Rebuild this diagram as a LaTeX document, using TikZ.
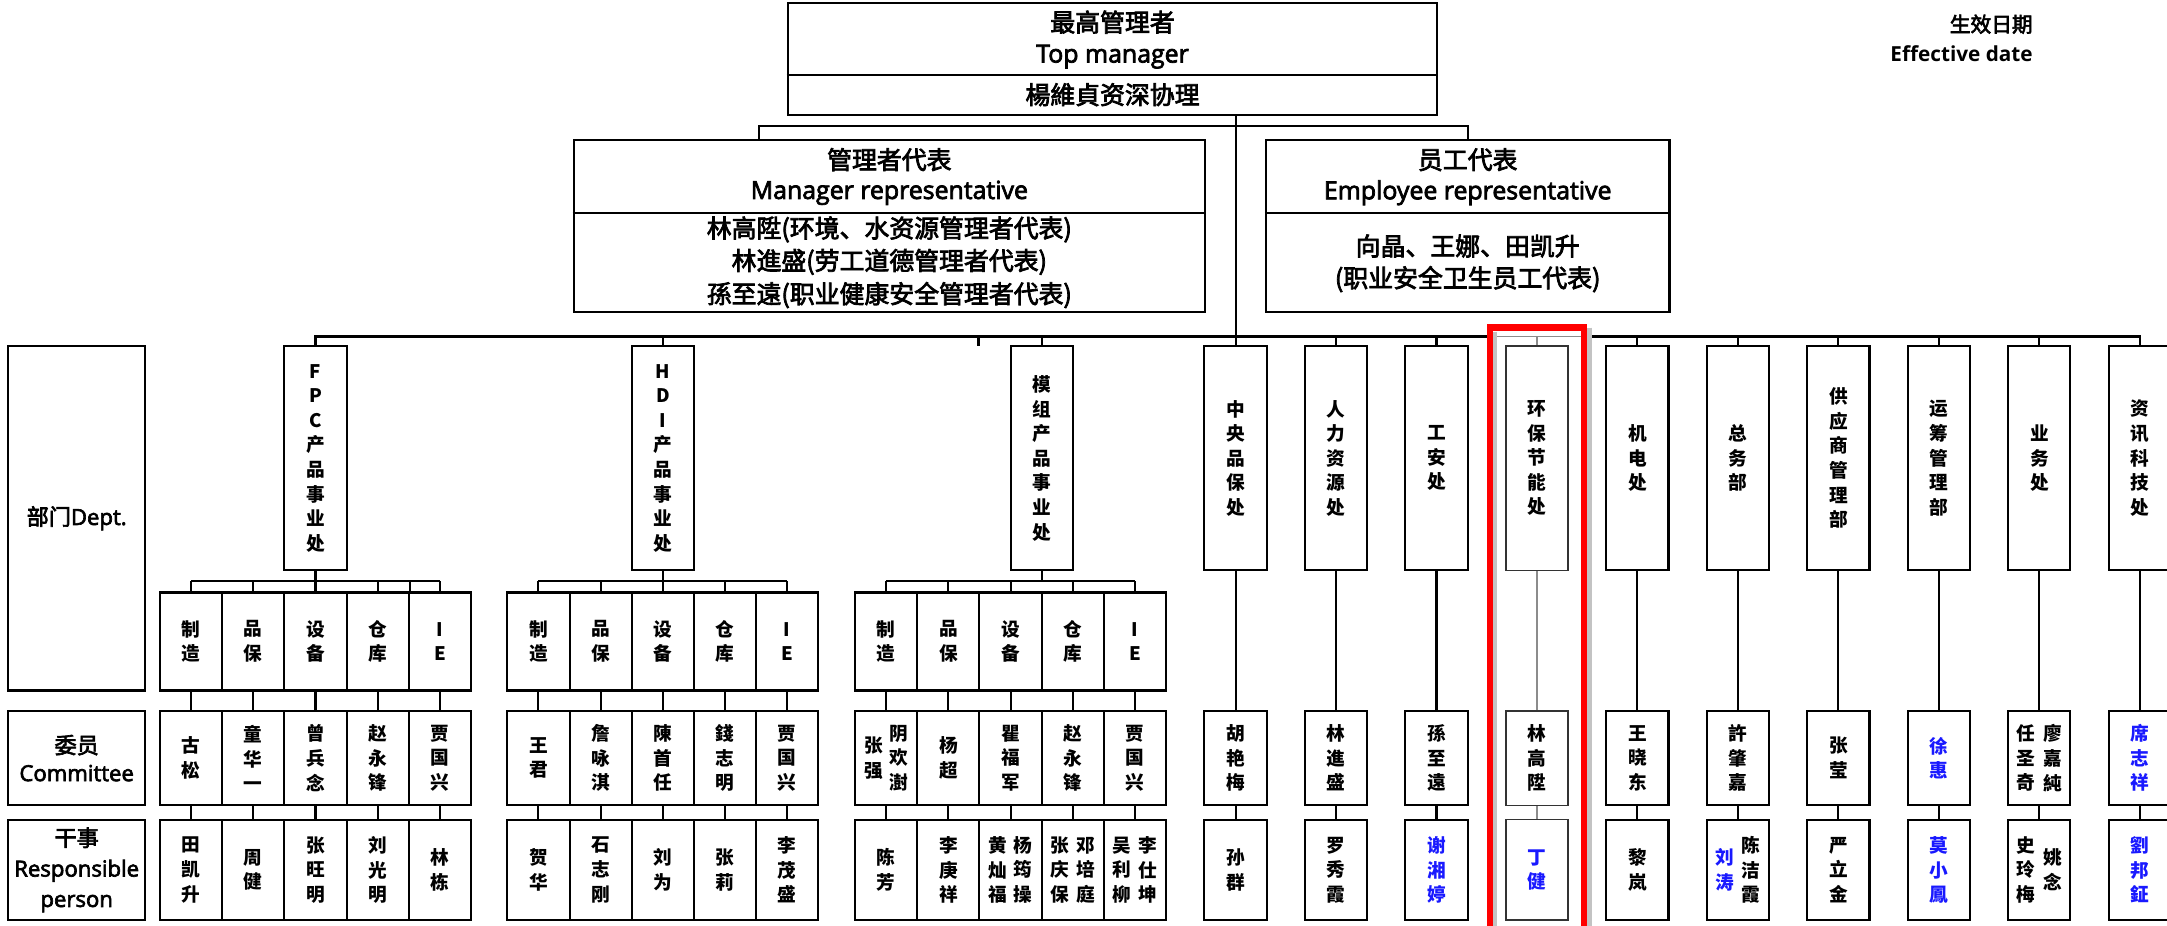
\documentclass[tikz,border=0pt]{standalone}
\usepackage{fontspec}
\setmainfont{Open Sans}
\newfontfamily\cjk{Noto Sans CJK SC}
\newfontfamily\cjkh[FakeBold=3]{Noto Sans CJK SC}
\newfontfamily\lath[FakeBold=3]{Open Sans}
\definecolor{nameblue}{RGB}{25,25,255}
\definecolor{selred}{RGB}{255,0,0}
\definecolor{selgray}{RGB}{195,195,195}
\tikzset{
  frame/.style={draw=black, line width=1.5pt, inner sep=0pt},
  cell/.style={frame, align=center, font=\cjk\bfseries\fontsize{13.5}{17.8}\selectfont},
  celltext/.style={inner sep=0pt, align=center, font=\cjk\bfseries\fontsize{13.5}{17.8}\selectfont},
  deptbox/.style={cell, minimum width=45pt, minimum height=162.3pt},
  subbox/.style={cell, minimum width=45pt, minimum height=70.9pt},
  combox/.style={cell, minimum width=45pt, minimum height=68.3pt},
  resbox/.style={cell, minimum width=45pt, minimum height=72.7pt},
  lite/.style={draw=black!80, line width=1pt},
  conn/.style={draw=black, line width=1.5pt},
  liteconn/.style={draw=black!45, line width=1pt},
  head/.style={inner sep=0pt, font=\lath\fontsize{18}{22}\selectfont},
  headcjk/.style={inner sep=0pt, font=\cjkh\fontsize{18}{22}\selectfont},
  labtext/.style={inner sep=0pt, align=center, font=\lath\fontsize{16}{20}\selectfont},
  bluename/.style={text=nameblue}
}
\begin{document}
\begin{tikzpicture}[x=1pt,y=-1pt]
\useasboundingbox (0,0) rectangle (1568,670);

% ---------- header boxes ----------
\node[frame, minimum width=470pt, minimum height=81pt] (top) at (805,43) {};
\coordinate (topdiv) at (805,54);
\draw[conn] (top.west |- topdiv) -- (top.east |- topdiv);
\node[headcjk] (topzh) at (805,16) {最高管理者};
\node[head] (topen) at (805,41) {Top manager};
\node[headcjk] (topname) at (805,68.5) {楊維貞资深协理};

\node[frame, minimum width=457pt, minimum height=124.5pt] (mgr) at (643.5,163.25) {};
\coordinate (mgrdiv) at (643.5,154);
\draw[conn] (mgr.west |- mgrdiv) -- (mgr.east |- mgrdiv);
\node[headcjk] (mgrzh) at (643.5,115.5) {管理者代表};
\node[head] (mgren) at (643.5,139.5) {Manager representative};
\node[headcjk] (mgr1) at (643.5,166) {林高陞(环境、水资源管理者代表)};
\node[headcjk] (mgr2) at (643.5,189.5) {林進盛(劳工道德管理者代表)};
\node[headcjk] (mgr3) at (643.5,213.5) {孫至遠(职业健康安全管理者代表)};

\node[frame, minimum width=292pt, minimum height=124.5pt] (emp) at (1062,163.25) {};
\coordinate (empdiv) at (1062,154);
\draw[conn] (emp.west |- empdiv) -- (emp.east |- empdiv);
\node[headcjk] (empzh) at (1062,115.5) {员工代表};
\node[head] (empen) at (1062,139.5) {Employee representative};
\node[headcjk] (emp1) at (1062,178) {向晶、王娜、田凯升};
\node[headcjk] (emp2) at (1062,202) {(职业安全卫生员工代表)};

\node[inner sep=0pt, anchor=east, font=\cjkh\fontsize{15}{18}\selectfont] (effzh) at (1471,17.5) {生效日期};
\node[inner sep=0pt, anchor=east, font=\bfseries\fontsize{15}{18}\selectfont] (effen) at (1471,38.5) {Effective date};

% ---------- left labels ----------
\node[frame, labtext, minimum width=99pt, minimum height=249.2pt] (labd) at (55.5,375) {{\cjkh 部门}Dept.};
\node[frame, labtext, minimum width=99pt, minimum height=68.3pt] (labc) at (55.5,548.55) {{\cjkh 委员}\\Committee};
\node[frame, labtext, font=\lath\fontsize{16}{22}\selectfont, minimum width=99pt, minimum height=72.7pt] (labr) at (55.5,629.45) {{\cjkh 干事}\\Responsible\\person};

% ---------- product groups ----------
\node[deptbox] (fpc) at (228.3,331.55) {F\\P\\C\\产\\品\\事\\业\\处};
\node[deptbox] (hdi) at (479.6,331.55) {H\\D\\I\\产\\品\\事\\业\\处};
\node[deptbox] (mz) at (753.7,331.55) {模\\组\\产\\品\\事\\业\\处};

\foreach \g/\xs in {f/138.3,h/389.6,m/641.2}{
  \node[subbox] (\g-s1) at (\xs,464.15) {制\\造};
  \node[subbox] (\g-s2) at (\xs+45,464.15) {品\\保};
  \node[subbox] (\g-s3) at (\xs+90,464.15) {设\\备};
  \node[subbox] (\g-s4) at (\xs+135,464.15) {仓\\库};
  \node[subbox] (\g-s5) at (\xs+180,464.15) {I\\E};
}

% FPC names
\node[combox] (f-c1) at (138.3,548.55) {古\\松};
\node[combox] (f-c2) at (183.3,548.55) {童\\华\\一};
\node[combox] (f-c3) at (228.3,548.55) {曾\\兵\\念};
\node[combox] (f-c4) at (273.3,548.55) {赵\\永\\锋};
\node[combox] (f-c5) at (318.3,548.55) {贾\\国\\兴};
\node[resbox] (f-r1) at (138.3,629.45) {田\\凯\\升};
\node[resbox] (f-r2) at (183.3,629.45) {周\\健};
\node[resbox] (f-r3) at (228.3,629.45) {张\\旺\\明};
\node[resbox] (f-r4) at (273.3,629.45) {刘\\光\\明};
\node[resbox] (f-r5) at (318.3,629.45) {林\\栋};

% HDI names
\node[combox] (h-c1) at (389.6,548.55) {王\\君};
\node[combox] (h-c2) at (434.6,548.55) {詹\\咏\\淇};
\node[combox] (h-c3) at (479.6,548.55) {陳\\首\\任};
\node[combox] (h-c4) at (524.6,548.55) {錢\\志\\明};
\node[combox] (h-c5) at (569.6,548.55) {贾\\国\\兴};
\node[resbox] (h-r1) at (389.6,629.45) {贺\\华};
\node[resbox] (h-r2) at (434.6,629.45) {石\\志\\刚};
\node[resbox] (h-r3) at (479.6,629.45) {刘\\为};
\node[resbox] (h-r4) at (524.6,629.45) {张\\莉};
\node[resbox] (h-r5) at (569.6,629.45) {李\\茂\\盛};

% module names
\node[combox] (m-c1) at (641.2,548.55) {};
\node[celltext] (m-c1a) at (632,548.55) {张\\强};
\node[celltext] (m-c1b) at (650.4,548.55) {阴\\欢\\澍};
\node[combox] (m-c2) at (686.2,548.55) {杨\\超};
\node[combox] (m-c3) at (731.2,548.55) {瞿\\福\\军};
\node[combox] (m-c4) at (776.2,548.55) {赵\\永\\锋};
\node[combox] (m-c5) at (821.2,548.55) {贾\\国\\兴};
\node[resbox] (m-r1) at (641.2,629.45) {陈\\芳};
\node[resbox] (m-r2) at (686.2,629.45) {李\\庚\\祥};
\node[resbox] (m-r3) at (731.2,629.45) {};
\node[celltext] (m-r3a) at (722,629.45) {黄\\灿\\福};
\node[celltext] (m-r3b) at (740.4,629.45) {杨\\筠\\操};
\node[resbox] (m-r4) at (776.2,629.45) {};
\node[celltext] (m-r4a) at (767,629.45) {张\\庆\\保};
\node[celltext] (m-r4b) at (785.4,629.45) {邓\\培\\庭};
\node[resbox] (m-r5) at (821.2,629.45) {};
\node[celltext] (m-r5a) at (812,629.45) {吴\\利\\柳};
\node[celltext] (m-r5b) at (830.4,629.45) {李\\仕\\坤};

% group connectors
\coordinate (fb) at (0,420.4);
\foreach \g/\d in {f/fpc,h/hdi,m/mz}{
  \draw[conn] (\d.south) -- (\d.south |- fb);
  \draw[conn] (\g-s1.north |- fb) -- (\g-s5.north |- fb);
  \foreach \k in {1,...,5}{
    \draw[conn] (\g-s\k.north |- fb) -- (\g-s\k.north);
    \draw[conn] (\g-s\k) -- (\g-c\k);
    \draw[conn] (\g-c\k) -- (\g-r\k);
  }
}
\draw[conn] (f-s4.north east |- fb) -- (f-s4.north east);

% ---------- single departments ----------
\node[deptbox] (cqb) at (894,331.55) {中\\央\\品\\保\\处};
\node[deptbox] (rl) at (966.7,331.55) {人\\力\\资\\源\\处};
\node[deptbox] (ga) at (1039.4,331.55) {工\\安\\处};
\node[deptbox,lite] (hb) at (1112.1,331.55) {环\\保\\节\\能\\处};
\node[deptbox] (jd) at (1184.8,331.55) {机\\电\\处};
\node[deptbox] (zw) at (1257.5,331.55) {总\\务\\部};
\node[deptbox] (gy) at (1330.2,331.55) {供\\应\\商\\管\\理\\部};
\node[deptbox] (yc) at (1402.9,331.55) {运\\筹\\管\\理\\部};
\node[deptbox] (yw) at (1475.6,331.55) {业\\务\\处};
\node[deptbox] (zx) at (1548.3,331.55) {资\\讯\\科\\技\\处};

\node[combox] (cqb-c) at (894,548.55) {胡\\艳\\梅};
\node[combox] (rl-c) at (966.7,548.55) {林\\進\\盛};
\node[combox] (ga-c) at (1039.4,548.55) {孫\\至\\遠};
\node[combox,lite] (hb-c) at (1112.1,548.55) {林\\高\\陞};
\node[combox] (jd-c) at (1184.8,548.55) {王\\晓\\东};
\node[combox] (zw-c) at (1257.5,548.55) {許\\肇\\嘉};
\node[combox] (gy-c) at (1330.2,548.55) {张\\莹};
\node[combox,bluename] (yc-c) at (1402.9,548.55) {徐\\惠};
\node[combox] (yw-c) at (1475.6,548.55) {};
\node[celltext] (yw-ca) at (1465.9,548.55) {任\\圣\\奇};
\node[celltext] (yw-cb) at (1485.3,548.55) {廖\\嘉\\純};
\node[combox,bluename] (zx-c) at (1548.3,548.55) {席\\志\\祥};

\node[resbox] (cqb-r) at (894,629.45) {孙\\群};
\node[resbox] (rl-r) at (966.7,629.45) {罗\\秀\\霞};
\node[resbox,bluename] (ga-r) at (1039.4,629.45) {谢\\湘\\婷};
\node[resbox,lite,bluename] (hb-r) at (1112.1,629.45) {丁\\健};
\node[resbox] (jd-r) at (1184.8,629.45) {黎\\岚};
\node[resbox] (zw-r) at (1257.5,629.45) {};
\node[celltext,bluename] (zw-ra) at (1248.1,629.45) {刘\\涛};
\node[celltext] (zw-rb) at (1266.7,629.45) {陈\\洁\\霞};
\node[resbox] (gy-r) at (1330.2,629.45) {严\\立\\金};
\node[resbox,bluename] (yc-r) at (1402.9,629.45) {莫\\小\\鳳};
\node[resbox] (yw-r) at (1475.6,629.45) {};
\node[celltext] (yw-ra) at (1465.9,629.45) {史\\玲\\梅};
\node[celltext] (yw-rb) at (1485.3,629.45) {姚\\念};
\node[resbox,bluename] (zx-r) at (1548.3,629.45) {劉\\邦\\鉦};

\foreach \n in {cqb,rl,ga,jd,zw,gy,yc,yw,zx}{
  \draw[conn] (\n) -- (\n-c);
  \draw[conn] (\n-c) -- (\n-r);
}
\draw[liteconn] (hb) -- (hb-c);
\draw[liteconn] (hb-c) -- (hb-r);

% ---------- header connectors and main bus ----------
\coordinate (j0) at (894,91);
\coordinate (busL) at (549,91);
\coordinate (busR) at (1062,91);
\coordinate (mb) at (894,243.5);
\coordinate (redL) at (1076,243.5);
\coordinate (redR) at (1148,243.5);
\coordinate (stubA) at (708,243.5);
\coordinate (stubB) at (708,250.4);
\draw[conn] (top.south -| j0) -- (j0);
\draw[conn] (mgr.north -| busL) -- (busL) -- (busR) -- (busR |- emp.north);
\draw[conn] (j0) -- (cqb.north);
\draw[conn] (fpc.north) -- (fpc.north |- mb) -- (redL);
\draw[liteconn] (redL) -- (redR);
\draw[conn] (redR) -- (zx.north |- mb) -- (zx.north);
\foreach \n in {hdi,mz,rl,ga,jd,zw,gy,yc,yw}{
  \draw[conn] (\n.north |- mb) -- (\n.north);
}
\draw[liteconn] (hb.north |- mb) -- (hb.north);
\draw[conn] (stubA) -- (stubB);

% ---------- selection highlight ----------
\coordinate (selA) at (1078,237);
\coordinate (selB) at (1146.3,720);
\coordinate (shA) at (1081.8,240);
\coordinate (shB) at (1081.8,720);
\coordinate (shC) at (1149.9,237);
\coordinate (shD) at (1149.9,720);
\draw[selgray, line width=2.4pt] (shA) -- (shB);
\draw[selgray, line width=3.6pt] (shC) -- (shD);
\draw[selred, line width=4.5pt] (selA) rectangle (selB);
\end{tikzpicture}
\end{document}
